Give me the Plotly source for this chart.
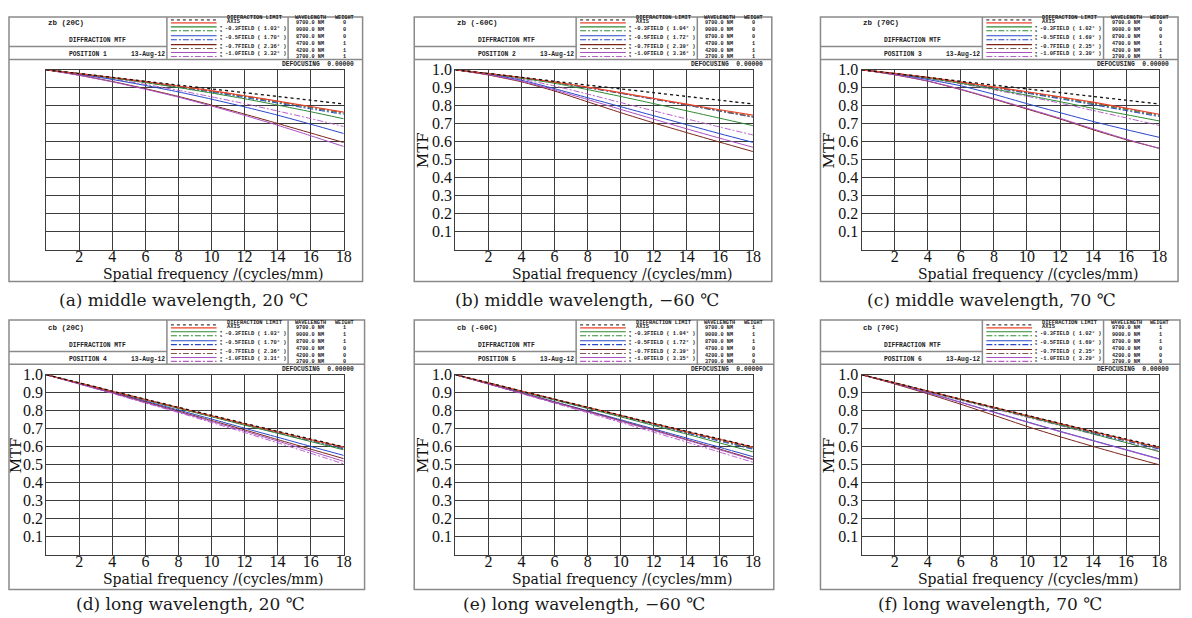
import plotly.graph_objects as go

W, H = 1192, 618
OFF = 8  # the page body has an 8px margin; the figure is placed inside it
FW, FH = W - OFF, H - OFF

# ---------------- data ----------------
freq = [0, 2, 4, 6, 8, 10, 12, 14, 16, 18]
x_ticks = [2, 4, 6, 8, 10, 12, 14, 16, 18]
y_ticks = [0.1, 0.2, 0.3, 0.4, 0.5, 0.6, 0.7, 0.8, 0.9, 1.0]
y_tick_text = ["0.1", "0.2", "0.3", "0.4", "0.5", "0.6", "0.7", "0.8", "0.9", "1.0"]

diff_mid = [1.0, .979, .958, .936, .915, .894, .873, .852, .831, .810]
diff_long = [1.0, .955, .909, .864, .819, .775, .730, .686, .643, .600]

# (a) middle wavelength, 20 C
a_axis = [1, .979, .957, .934, .910, .884, .856, .826, .796, .765]
a_t03 = [1, .978, .954, .929, .901, .871, .839, .804, .767, .728]
a_s03 = [1, .979, .956, .932, .907, .880, .851, .820, .789, .757]
a_t05 = [1, .975, .946, .913, .877, .837, .794, .748, .698, .646]
a_s05 = [1, .978, .955, .930, .904, .876, .846, .815, .783, .752]
a_t07 = [1, .970, .935, .895, .852, .804, .754, .702, .649, .596]
a_s07 = [1, .979, .956, .933, .908, .882, .854, .824, .793, .761]
a_t10 = [1, .969, .933, .892, .848, .799, .747, .692, .634, .574]
a_s10 = [1, .976, .949, .919, .886, .850, .812, .771, .729, .685]

# (b) middle wavelength, -60 C
b_axis = [1, .979, .957, .932, .904, .873, .841, .809, .778, .748]
b_t03 = [1, .978, .953, .925, .890, .852, .812, .772, .731, .690]
b_s03 = [1, .979, .956, .930, .902, .871, .839, .806, .773, .741]
b_t05 = [1, .975, .942, .895, .845, .795, .745, .695, .645, .597]
b_s05 = [1, .979, .955, .929, .900, .869, .836, .803, .770, .737]
b_t07 = [1, .971, .933, .882, .822, .762, .705, .651, .598, .546]
b_s07 = [1, .979, .956, .931, .902, .871, .838, .805, .772, .738]
b_t10 = [1, .973, .937, .888, .835, .780, .726, .672, .620, .570]
b_s10 = [1, .976, .948, .910, .865, .818, .772, .727, .682, .638]

# (c) middle wavelength, 70 C
c_axis = [1, .980, .958, .932, .905, .878, .850, .820, .787, .753]
c_t03 = [1, .978, .953, .925, .893, .859, .823, .786, .751, .716]
c_s03 = [1, .979, .956, .930, .902, .873, .843, .811, .778, .745]
c_t05 = [1, .976, .946, .911, .864, .812, .762, .713, .668, .625]
c_s05 = [1, .979, .955, .929, .900, .870, .839, .806, .773, .740]
c_t07 = [1, .972, .937, .890, .837, .782, .727, .667, .612, .564]
c_s07 = [1, .980, .957, .931, .904, .876, .847, .816, .783, .749]
c_t10 = [1, .973, .938, .892, .840, .786, .731, .672, .615, .564]
c_s10 = [1, .977, .951, .922, .889, .853, .815, .774, .733, .691]

# (d) long wavelength, 20 C
d_axis = [1, .954, .908, .862, .817, .772, .727, .683, .640, .598]
d_t03 = [1, .953, .906, .859, .813, .767, .720, .675, .629, .583]
d_s03 = [1, .954, .907, .861, .815, .770, .725, .680, .636, .593]
d_t05 = [1, .951, .902, .853, .804, .754, .703, .653, .602, .552]
d_s05 = [1, .953, .906, .860, .814, .768, .722, .677, .632, .588]
d_t07 = [1, .950, .900, .849, .798, .746, .694, .640, .587, .534]
d_s07 = [1, .954, .908, .862, .816, .771, .726, .682, .638, .596]
d_t10 = [1, .949, .898, .846, .794, .741, .687, .632, .576, .519]
d_s10 = [1, .948, .896, .843, .790, .735, .679, .622, .564, .505]

# (e) long wavelength, -60 C
e_axis = [1, .955, .909, .864, .819, .774, .729, .683, .641, .598]
e_t03 = [1, .953, .906, .860, .813, .766, .718, .670, .621, .572]
e_s03 = [1, .954, .908, .862, .816, .771, .725, .679, .635, .590]
e_t05 = [1, .950, .900, .850, .800, .750, .699, .648, .597, .545]
e_s05 = [1, .953, .906, .860, .814, .768, .722, .676, .631, .586]
e_t07 = [1, .949, .898, .848, .797, .745, .693, .640, .587, .532]
e_s07 = [1, .954, .908, .863, .818, .772, .727, .682, .638, .594]
e_t10 = [1, .949, .897, .846, .794, .742, .690, .637, .583, .528]
e_s10 = [1, .948, .895, .842, .789, .735, .681, .626, .570, .514]

# (f) long wavelength, 70 C
f_axis = [1, .955, .909, .864, .819, .773, .729, .684, .640, .596]
f_t03 = [1, .954, .907, .861, .815, .768, .720, .672, .623, .573]
f_s03 = [1, .955, .908, .863, .817, .771, .726, .680, .635, .590]
f_t05 = [1, .951, .900, .847, .793, .739, .686, .635, .584, .533]
f_s05 = [1, .954, .907, .861, .815, .769, .723, .677, .632, .587]
f_t07 = [1, .949, .894, .836, .775, .713, .656, .602, .550, .500]
f_s07 = [1, .955, .909, .863, .818, .772, .727, .682, .638, .594]
f_t10 = [1, .951, .900, .846, .791, .737, .684, .633, .582, .531]
f_s10 = [1, .953, .905, .858, .811, .764, .717, .670, .624, .578]

titles = ["zb (20C)", "zb (-60C)", "zb (70C)", "cb (20C)", "cb (-60C)", "cb (70C)"]
positions = ["POSITION 1", "POSITION 2", "POSITION 3", "POSITION 4", "POSITION 5", "POSITION 6"]
field_angles = [
    ["1.03", "1.70", "2.36", "3.32"],
    ["1.04", "1.72", "2.39", "3.36"],
    ["1.02", "1.69", "2.35", "3.30"],
    ["1.03", "1.70", "2.36", "3.31"],
    ["1.04", "1.72", "2.39", "3.35"],
    ["1.02", "1.69", "2.35", "3.29"],
]
field_names = ["-0.3FIELD", "-0.5FIELD", "-0.7FIELD", "-1.0FIELD"]
wavelengths = ["9700.0 NM", "9000.0 NM", "8700.0 NM", "4700.0 NM", "4200.0 NM", "3700.0 NM"]
weights_mid = ["0", "0", "0", "1", "1", "1"]
weights_long = ["1", "1", "1", "0", "0", "0"]
captions = [
    "(a) middle wavelength, 20 \u2103",
    "(b) middle wavelength, \u221260 \u2103",
    "(c) middle wavelength, 70 \u2103",
    "(d) long wavelength, 20 \u2103",
    "(e) long wavelength, \u221260 \u2103",
    "(f) long wavelength, 70 \u2103",
]

# ---------------- styles / layout geometry ----------------
SERIF = "DejaVu Serif"
TICKF = "Liberation Serif"
MONO = "Liberation Mono"
# order: diff, axis, T0.3, S0.3, T0.5, S0.5, T0.7, S0.7, T1.0, S1.0
DD = "6px,2px,2px,2px"
styles = [
    ("#111111", "dot", 1.3),
    ("#e8452c", "solid", 1.2),
    ("#2f8a34", "solid", 1.0),
    ("#2f8a34", DD, 1.0),
    ("#2747c9", "solid", 1.0),
    ("#2747c9", DD, 1.0),
    ("#7a2418", "solid", 1.0),
    ("#7d5a50", DD, 1.2),
    ("#a94fc2", "solid", 1.0),
    ("#b860c8", DD, 1.0),
]

panel_series = [
    [diff_mid, a_axis, a_t03, a_s03, a_t05, a_s05, a_t07, a_s07, a_t10, a_s10],
    [diff_mid, b_axis, b_t03, b_s03, b_t05, b_s05, b_t07, b_s07, b_t10, b_s10],
    [diff_mid, c_axis, c_t03, c_s03, c_t05, c_s05, c_t07, c_s07, c_t10, c_s10],
    [diff_long, d_axis, d_t03, d_s03, d_t05, d_s05, d_t07, d_s07, d_t10, d_s10],
    [diff_long, e_axis, e_t03, e_s03, e_t05, e_s05, e_t07, e_s07, e_t10, e_s10],
    [diff_long, f_axis, f_t03, f_s03, f_t05, f_s05, f_t07, f_s07, f_t10, f_s10],
]

FRAME_L = [5, 417, 826]
FRAME_W = 360
ROW_T = [7, 316]
ROW_B = [277, 589]
CAP_X = [185, 591, 998, 192, 588, 997]
CAP_Y = [296, 604]


def px(x):
    return (x - OFF) / FW


def py(y):
    return 1 - (y - OFF) / FH


ann = []
shapes = []


def text(x, y, s, size, family=MONO, xanchor="left", weight="bold", color="#222", angle=0):
    ann.append(dict(x=px(x), y=py(y), xref="paper", yref="paper", text=s, showarrow=False,
                    xanchor=xanchor, yanchor="middle", textangle=angle, borderpad=0,
                    font=dict(family=family, size=size, color=color, weight=weight)))


def seg(x0, y0, x1, y1, color="#8a8a8a", width=1.5, dash="solid"):
    shapes.append(dict(type="line", xref="paper", yref="paper", x0=px(x0), y0=py(y0),
                       x1=px(x1), y1=py(y1), line=dict(color=color, width=width, dash=dash)))


fig = go.Figure()
layout_axes = {}

for i in range(6):
    col, row = i % 3, i // 3
    FL = FRAME_L[col]
    FR = FL + FRAME_W + (2 if row == 1 else 0)
    t, b = ROW_T[row], ROW_B[row]
    pl, pr = FL + 41.5, FL + 341
    pt, pb = t + 55.5, t + 238

    # frame and header boxes (kept inside the visible page)
    fl_vis = max(FL, OFF + 1)
    ft_vis = max(t, OFF + 1)
    shapes.append(dict(type="rect", xref="paper", yref="paper", x0=px(fl_vis), x1=px(FR),
                       y0=py(b), y1=py(ft_vis), line=dict(color="#8a8a8a", width=1.5)))
    hb = t + 45
    seg(fl_vis, hb, FR, hb)
    seg(FL + 163, ft_vis, FL + 163, hb)
    seg(FL + 285, ft_vis, FL + 285, hb)
    seg(fl_vis, t + 32, FL + 163, t + 32)

    # left header block
    text(FL + 42, t + 8, titles[i], 7.5)
    text(FL + 63, t + 26, "DIFFRACTION MTF", 6.3)
    text(FL + 63, t + 40, positions[i], 6.3)
    text(FL + 162, t + 40, "13-Aug-12", 6.3, xanchor="right")

    # legend block
    xl = FL + 163
    sw_rows = [5, 8, 12, 16, 21, 25, 30, 34, 38, 42]
    for k, (c, d, w) in enumerate(styles):
        seg(xl + 4, t + sw_rows[k], xl + 50, t + sw_rows[k], color=c, width=1.1 if k else 1.0, dash=d)
    text(xl + 59, t + 3.5, "DIFFRACTION LIMIT", 5.4)
    text(xl + 59, t + 7.5, "AXIS", 5.4)
    for j in range(4):
        yy = t + [14, 23, 32, 40][j]
        text(xl + 52, yy - 1.8, "T", 3.6)
        text(xl + 52, yy + 1.8, "S", 3.6)
        text(xl + 57, yy, field_names[j] + " ( " + field_angles[i][j] + "\u00b0 )", 5.4)

    # wavelength table
    xt = FL + 285
    text(xt + 6, t + 3.3, "WAVELENGTH", 5.2)
    text(xt + 46, t + 3.3, "WEIGHT", 5.2)
    wts = weights_mid if row == 0 else weights_long
    for j in range(6):
        yy = t + 8.5 + j * 6.9
        text(xt + 7, yy, wavelengths[j], 5.2)
        text(xt + 57, yy, wts[j], 5.2, xanchor="center")

    text(FL + 352, hb + 5, "DEFOCUSING  0.00000", 6.3, xanchor="right")

    # axes
    sfx = "" if i == 0 else str(i + 1)
    layout_axes["xaxis" + sfx] = dict(
        domain=[px(pl), px(pr)], range=[0, 18], anchor="y" + sfx, tickvals=x_ticks,
        showgrid=True, gridcolor="#3c3c3c", gridwidth=1, zeroline=False,
        showline=True, mirror=True, linecolor="#3c3c3c", linewidth=1.3, ticks="",
        ticklabelstandoff=-8,
        tickfont=dict(family=TICKF, size=16, color="#111"), fixedrange=True)
    layout_axes["yaxis" + sfx] = dict(
        domain=[py(pb), py(pt)], range=[0, 1], anchor="x" + sfx, tickvals=y_ticks,
        ticktext=y_tick_text, showticklabels=(i != 0), ticklabelstandoff=-1,
        showgrid=True, gridcolor="#3c3c3c", gridwidth=1, zeroline=False,
        showline=True, mirror=True, linecolor="#3c3c3c", linewidth=1.3, ticks="",
        tickfont=dict(family=TICKF, size=16, color="#111"), fixedrange=True)

    # curves (S first, then T, then axis, diffraction on top)
    order = [3, 5, 7, 9, 2, 4, 6, 8, 1, 0]
    for k in order:
        c, d, w = styles[k]
        fig.add_trace(go.Scatter(
            x=freq, y=panel_series[i][k], mode="lines", xaxis="x" + sfx, yaxis="y" + sfx,
            line=dict(color=c, dash=d, width=w, shape="spline", smoothing=0.6),
            showlegend=False, hoverinfo="skip"))

    # axis titles
    text((pl + pr) / 2 + 18, t + 262, "Spatial frequency /(cycles/mm)", 14,
         family=SERIF, xanchor="center", weight="normal", color="#111")
    if i != 0:
        text(max(FL + 9, 15.5), (pt + pb) / 2 - 10, "MTF", 15, family=SERIF, xanchor="center",
             weight="normal", color="#111", angle=-90)
    text(CAP_X[i], CAP_Y[row], captions[i], 17, family=SERIF, xanchor="center",
         weight="normal", color="#1a1a1a")

fig.update_layout(
    width=FW, height=FH, margin=dict(l=0, r=0, t=0, b=0),
    paper_bgcolor="white", plot_bgcolor="white",
    showlegend=False, annotations=ann, shapes=shapes, **layout_axes)

fig.write_html("out.html")
